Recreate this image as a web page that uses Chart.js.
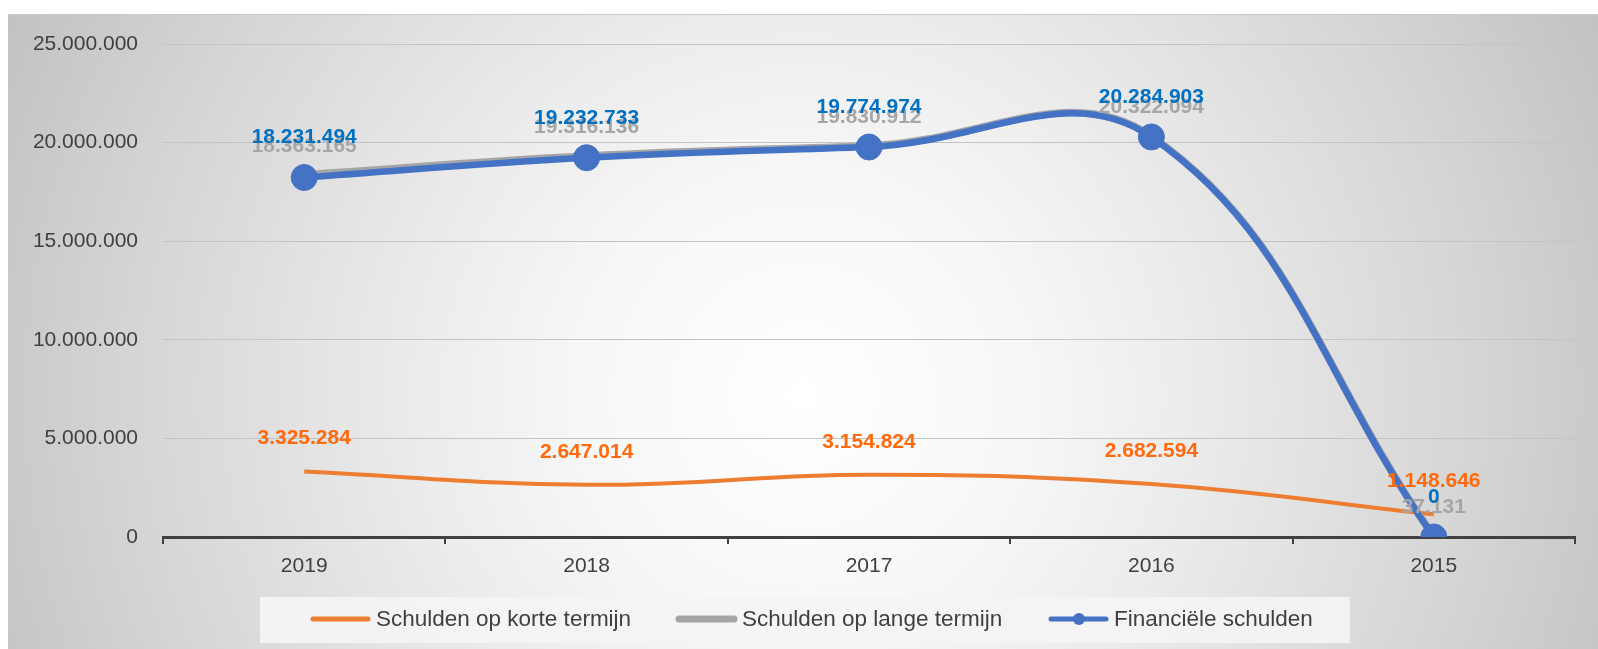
<!DOCTYPE html>
<html>
<head>
<meta charset="utf-8">
<script src="https://cdn.jsdelivr.net/npm/chart.js@4.4.1/dist/chart.umd.min.js"></script>
<style>
  html, body { margin: 0; padding: 0; background: #ffffff; }
  #wrap { position: relative; width: 1598px; height: 649px; overflow: hidden; }
  #bg {
    position: absolute; left: 8px; top: 14px; width: 1590px; height: 635px;
    border-top: 1px solid #c8c8c8;
    background: radial-gradient(circle farthest-corner at 50% 60%, #ffffff 0%, #f7f7f7 25%, #ebebeb 45%, #d6d6d6 75%, #c2c2c2 100%);
  }
  #chart { position: absolute; left: 0; top: 0; }
</style>
</head>
<body>
<div id="wrap">
  <div id="bg"></div>
  <canvas id="chart" width="1598" height="649"></canvas>
</div>
<script>
// gegevens
const years = ['2019', '2018', '2017', '2016', '2015'];
const kortValues = [3325284, 2647014, 3154824, 2682594, 1148646];
const langeValues = [18363165, 19316136, 19830912, 20322094, 37131];
const financValues = [18231494, 19232733, 19774974, 20284903, 0];
const yTicks = [0, 5000000, 10000000, 15000000, 20000000, 25000000];
const seriesNames = ['Schulden op korte termijn', 'Schulden op lange termijn', 'Financiële schulden'];

const FONT = '"Liberation Sans", Arial, sans-serif';

function fmt(v) {
    return String(v).replace(/\B(?=(\d{3})+(?!\d))/g, '.');
}

// datalabels boven de punten
const labelPlugin = {
    id: 'valueLabels',
    afterDatasetsDraw(chart) {
        const ctx = chart.ctx;
        const specs = [
            { idx: 1, color: '#A6A6A6', off: 29 },
            { idx: 0, color: '#FF6A0D', off: 33 },
            { idx: 2, color: '#0070C0', off: 40 }
        ];
        ctx.save();
        ctx.font = 'bold 21px ' + FONT;
        ctx.textAlign = 'center';
        ctx.textBaseline = 'middle';
        specs.forEach(s => {
            const meta = chart.getDatasetMeta(s.idx);
            const data = chart.data.datasets[s.idx].data;
            meta.data.forEach((pt, i) => {
                ctx.fillStyle = s.color;
                ctx.fillText(fmt(data[i]), pt.x, pt.y - s.off);
            });
        });
        ctx.restore();
    }
};

// legenda met achtergrond
const legendPlugin = {
    id: 'boxLegend',
    afterDraw(chart) {
        const ctx = chart.ctx;
        ctx.save();
        ctx.fillStyle = 'rgba(244,244,244,0.92)';
        ctx.fillRect(260, 597, 1090, 46);
        const items = [
            { x: 313, color: '#ED7D31', width: 5, marker: false },
            { x: 679, color: '#A5A5A5', width: 7, marker: false },
            { x: 1051, color: '#4472C4', width: 5, marker: true }
        ];
        const y = 619;
        ctx.font = '22.5px ' + FONT;
        ctx.textBaseline = 'middle';
        ctx.textAlign = 'left';
        items.forEach((it, i) => {
            ctx.strokeStyle = it.color;
            ctx.lineWidth = it.width;
            ctx.lineCap = 'round';
            ctx.beginPath();
            ctx.moveTo(it.x, y);
            ctx.lineTo(it.x + 55, y);
            ctx.stroke();
            if (it.marker) {
                ctx.fillStyle = it.color;
                ctx.beginPath();
                ctx.arc(it.x + 28, y, 6, 0, Math.PI * 2);
                ctx.fill();
            }
            ctx.fillStyle = '#404040';
            ctx.fillText(seriesNames[i], it.x + 63, y + 1);
        });
        ctx.restore();
    }
};

new Chart(document.getElementById('chart').getContext('2d'), {
    type: 'line',
    data: {
        labels: years,
        datasets: [{
            label: seriesNames[0],
            data: kortValues,
            borderColor: '#ED7D31',
            backgroundColor: '#ED7D31',
            borderWidth: 4,
            pointRadius: 0,
            tension: 0.4,
            order: 3
        }, {
            label: seriesNames[1],
            data: langeValues,
            borderColor: '#A5A5A5',
            backgroundColor: '#A5A5A5',
            borderWidth: 7.5,
            pointRadius: 0,
            tension: 0.4,
            order: 2
        }, {
            label: seriesNames[2],
            data: financValues,
            borderColor: '#4472C4',
            backgroundColor: '#4472C4',
            borderWidth: 6.5,
            pointRadius: 13,
            pointBorderWidth: 1,
            tension: 0.4,
            order: 1
        }]
    },
    options: {
        responsive: false,
        animation: false,
        devicePixelRatio: 1,
        layout: { padding: { left: 0, top: 44, right: 23, bottom: 0 } },
        plugins: {
            legend: { display: false },
            tooltip: { enabled: false }
        },
        scales: {
            x: {
                offset: true,
                grid: {
                    offset: true,
                    drawOnChartArea: false,
                    drawTicks: true,
                    tickLength: 7,
                    color: '#404040',
                    lineWidth: 2
                },
                border: { display: true, color: '#404040', width: 3 },
                ticks: {
                    color: '#404040',
                    padding: 10,
                    font: { family: FONT, size: 21 }
                },
                afterFit(scale) { scale.height = 112; }
            },
            y: {
                min: 0,
                max: 25000000,
                afterBuildTicks(scale) {
                    scale.ticks = yTicks.map(v => ({ value: v }));
                },
                grid: {
                    drawTicks: false,
                    color: '#c4c4c4',
                    lineWidth: 1
                },
                border: { display: false },
                ticks: {
                    color: '#404040',
                    padding: 25,
                    font: { family: FONT, size: 21 },
                    callback: v => fmt(v)
                },
                afterFit(scale) { scale.width = 163; }
            }
        }
    },
    plugins: [labelPlugin, legendPlugin]
});
</script>
</body>
</html>
